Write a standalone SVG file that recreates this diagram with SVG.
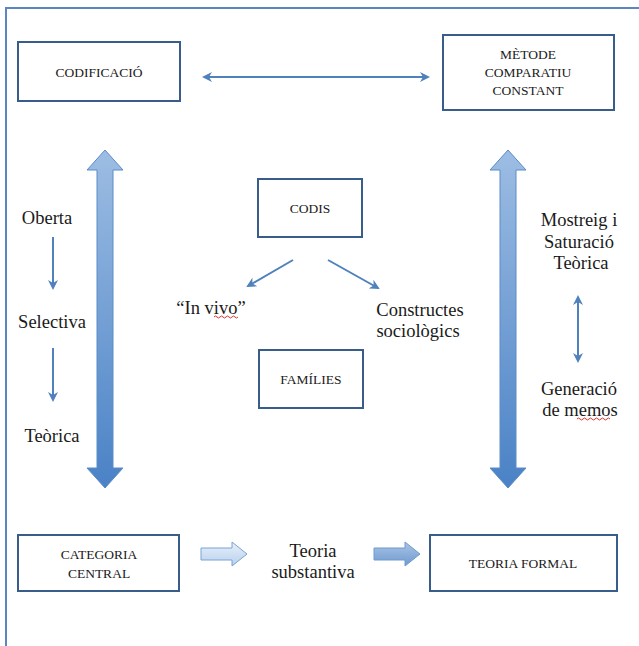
<svg xmlns="http://www.w3.org/2000/svg" width="639" height="646" viewBox="0 0 639 646">
<defs>
<style>
.box{fill:#fff;stroke:#385d8a;stroke-width:2}
.bt{font-family:"Liberation Serif",serif;font-size:13.5px;fill:#1a1a1a;text-anchor:middle}
.lt{font-family:"Liberation Serif",serif;font-size:18.5px;fill:#1a1a1a;text-anchor:middle}
.thin{stroke:#4f81bd;stroke-width:2;fill:none}
.sq{stroke:#e03030;stroke-width:1;fill:none}
</style>
<linearGradient id="gv" x1="0" y1="0" x2="0" y2="1">
<stop offset="0" stop-color="#9dbde3"/>
<stop offset="1" stop-color="#4a82c6"/>
</linearGradient>
<linearGradient id="gh1" x1="0" y1="0" x2="0" y2="1">
<stop offset="0" stop-color="#e8f0fa"/>
<stop offset="1" stop-color="#b8d0ec"/>
</linearGradient>
<linearGradient id="gh2" x1="0" y1="0" x2="0" y2="1">
<stop offset="0" stop-color="#a9c4e6"/>
<stop offset="1" stop-color="#6f9ad0"/>
</linearGradient>
<marker id="ah" viewBox="0 0 10 10" refX="8" refY="5" markerWidth="5" markerHeight="5" orient="auto-start-reverse">
<path d="M0,0 L10,5 L0,10 L3,5 Z" fill="#4f81bd"/>
</marker>
</defs>
<rect x="0" y="0" width="639" height="646" fill="#fff"/>
<path d="M6,646 L6,8 L639,8" fill="none" stroke="#5b86c0" stroke-width="2"/>

<g id="connectors">
<line class="thin" x1="204" y1="77" x2="428" y2="77" marker-start="url(#ah)" marker-end="url(#ah)"/>
<path d="M105,150 L123,170 L113,170 L113,468 L123,468 L105,488 L87,468 L97,468 L97,170 L87,170 Z" fill="url(#gv)" stroke="#5b8cc8" stroke-width="1"/>
<path d="M508,150 L526,170 L516,170 L516,468 L526,468 L508,488 L490,468 L500,468 L500,170 L490,170 Z" fill="url(#gv)" stroke="#5b8cc8" stroke-width="1"/>
<line class="thin" x1="53" y1="237" x2="53" y2="288" marker-end="url(#ah)"/>
<line class="thin" x1="53" y1="348" x2="53" y2="400" marker-end="url(#ah)"/>
<line class="thin" x1="293" y1="260" x2="248" y2="286" marker-end="url(#ah)"/>
<line class="thin" x1="328" y1="260" x2="378" y2="288" marker-end="url(#ah)"/>
<line class="thin" x1="578" y1="297" x2="578" y2="361" marker-start="url(#ah)" marker-end="url(#ah)"/>
<path d="M201,548 L232,548 L232,542 L247,554 L232,566 L232,560 L201,560 Z" fill="url(#gh1)" stroke="#7aa2d4" stroke-width="1"/>
<path d="M374,548 L405,548 L405,542 L420,554 L405,566 L405,560 L374,560 Z" fill="url(#gh2)" stroke="#6f9ad0" stroke-width="1"/>
</g>

<g id="codificacio">
<rect class="box" x="18" y="42" width="162" height="59"/>
<text class="bt" x="99" y="77">CODIFICACIÓ</text>
</g>
<g id="metode">
<rect class="box" x="443" y="35" width="171" height="75"/>
<text class="bt" x="528" y="59">MÈTODE</text>
<text class="bt" x="528" y="77">COMPARATIU</text>
<text class="bt" x="528" y="95">CONSTANT</text>
</g>
<g id="codis">
<rect class="box" x="258" y="179" width="104" height="58"/>
<text class="bt" x="310" y="213">CODIS</text>
</g>
<g id="families">
<rect class="box" x="259" y="350" width="104" height="58"/>
<text class="bt" x="311" y="384">FAMÍLIES</text>
</g>
<g id="categoria">
<rect class="box" x="18" y="535" width="161" height="56"/>
<text class="bt" x="99" y="559">CATEGORIA</text>
<text class="bt" x="99" y="578">CENTRAL</text>
</g>
<g id="teoria-formal">
<rect class="box" x="430" y="535" width="187" height="56"/>
<text class="bt" x="523" y="568">TEORIA FORMAL</text>
</g>

<g id="labels">
<text class="lt" x="47" y="224">Oberta</text>
<text class="lt" x="52" y="328">Selectiva</text>
<text class="lt" x="52" y="442">Teòrica</text>
<text class="lt" x="211" y="314">“In vivo”</text>
<path class="sq" d="M214,317 q1.5,-2 3,0 t3,0 t3,0 t3,0 t3,0 t3,0 t3,0 t3,0"/>
<text class="lt" x="420" y="316">Constructes</text>
<text class="lt" x="418" y="337">sociològics</text>
<text class="lt" x="579" y="226">Mostreig i</text>
<text class="lt" x="579" y="248">Saturació</text>
<text class="lt" x="581" y="269">Teòrica</text>
<text class="lt" x="579" y="395">Generació</text>
<text class="lt" x="580" y="416">de memos</text>
<path class="sq" d="M577,419 q1.5,-2 3,0 t3,0 t3,0 t3,0 t3,0 t3,0 t3,0 t3,0 t3,0 t3,0 t3,0"/>
<text class="lt" x="313" y="557">Teoria</text>
<text class="lt" x="313" y="578">substantiva</text>
</g>
</svg>
